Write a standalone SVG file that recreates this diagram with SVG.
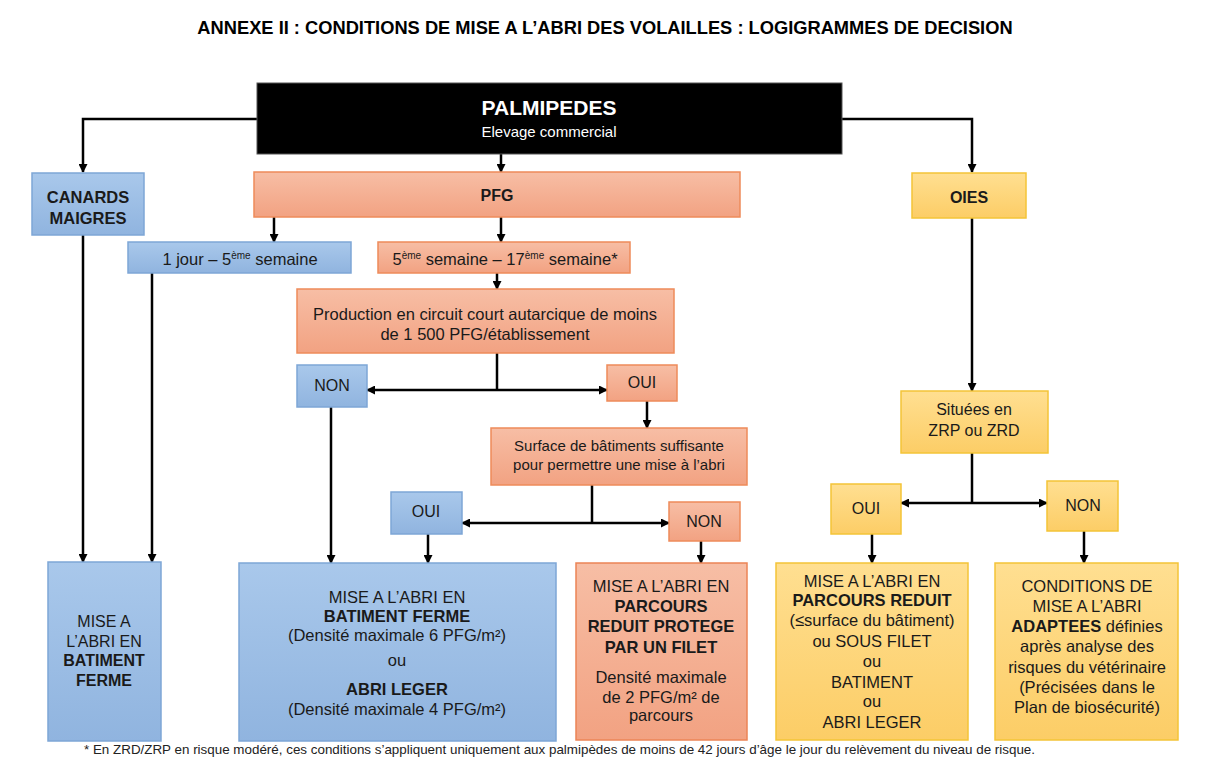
<svg xmlns="http://www.w3.org/2000/svg" width="1215" height="769" viewBox="0 0 1215 769">
<defs>
<linearGradient id="gBlue" x1="0" y1="0" x2="0" y2="1"><stop offset="0" stop-color="#a9c8eb"/><stop offset="1" stop-color="#90b4df"/></linearGradient>
<linearGradient id="gOrange" x1="0" y1="0" x2="0" y2="1"><stop offset="0" stop-color="#f7bea5"/><stop offset="1" stop-color="#f2a282"/></linearGradient>
<linearGradient id="gYellow" x1="0" y1="0" x2="0" y2="1"><stop offset="0" stop-color="#ffdf91"/><stop offset="1" stop-color="#fccd66"/></linearGradient>
<marker id="arr" markerWidth="9" markerHeight="9" refX="8" refY="4.5" orient="auto" markerUnits="userSpaceOnUse"><path d="M0,0 L9,4.5 L0,9 z" fill="#000"/></marker>
<style>
text{font-family:"Liberation Sans",Arial,Helvetica,sans-serif;fill:#1a1a1a;text-anchor:middle}
.b{font-weight:bold}
.blue{fill:url(#gBlue);stroke:#7ea6d6;stroke-width:1.5}
.orange{fill:url(#gOrange);stroke:#ee8b5a;stroke-width:1.5}
.yellow{fill:url(#gYellow);stroke:#f4c437;stroke-width:1.5}
.t16{font-size:16.5px}
.c path{fill:none;stroke:#000;stroke-width:2.5}
.c path.a{marker-end:url(#arr)}
</style>
</defs>
<rect width="1215" height="769" fill="#fff"/>
<text x="605" y="34" class="b" style="font-size:18.3px;fill:#000">ANNEXE II : CONDITIONS DE MISE A L’ABRI DES VOLAILLES : LOGIGRAMMES DE DECISION</text>

<g class="c" id="connectors">
<path class="a" d="M257,119 H83 V172"/>
<path class="a" d="M842,119 H972 V172"/>
<path class="a" d="M501,154 V172"/>
<path class="a" d="M274,217 V242"/>
<path class="a" d="M501,217 V242"/>
<path class="a" d="M83,235 V562"/>
<path class="a" d="M152,273 V562"/>
<path class="a" d="M497,273 V289"/>
<path d="M497,353 V390"/>
<path class="a" d="M497,390 H367"/>
<path class="a" d="M497,390 H607"/>
<path class="a" d="M647,401 V428"/>
<path class="a" d="M331,407 V563"/>
<path d="M592,485 V523"/>
<path class="a" d="M592,523 H462"/>
<path class="a" d="M592,523 H669"/>
<path class="a" d="M428,534 V563"/>
<path class="a" d="M701,541 V563"/>
<path class="a" d="M972,218 V391"/>
<path d="M972,453 V503"/>
<path class="a" d="M972,503 H901"/>
<path class="a" d="M972,503 H1047"/>
<path class="a" d="M872,534 V563"/>
<path class="a" d="M1084,531 V563"/>
</g>

<g id="palmipedes">
<rect x="257" y="83" width="585" height="71" fill="#000" stroke="#555" stroke-width="1"/>
<text x="549" y="115" class="b" style="font-size:21px;fill:#fff">PALMIPEDES</text>
<text x="549" y="137" style="font-size:15px;fill:#fff">Elevage commercial</text>
</g>

<g id="canards">
<rect class="blue" x="32" y="173" width="112" height="62"/>
<text x="88" y="203" class="b t16">CANARDS</text>
<text x="88" y="224" class="b t16">MAIGRES</text>
</g>

<g id="pfg">
<rect class="orange" x="254" y="172" width="486" height="45"/>
<text x="497" y="201" class="b" style="font-size:16px">PFG</text>
</g>

<g id="oies">
<rect class="yellow" x="912" y="173" width="114" height="45"/>
<text x="969" y="203" class="b" style="font-size:16px">OIES</text>
</g>

<g id="jour1">
<rect class="blue" x="128" y="242" width="223" height="31"/>
<text x="240" y="265" class="t16">1 jour – 5<tspan dy="-6" style="font-size:10px">ème</tspan><tspan dy="6"> semaine</tspan></text>
</g>

<g id="sem5">
<rect class="orange" x="378" y="242" width="252" height="31"/>
<text x="505" y="265" class="t16">5<tspan dy="-6" style="font-size:10px">ème</tspan><tspan dy="6"> semaine – 17</tspan><tspan dy="-6" style="font-size:10px">ème</tspan><tspan dy="6"> semaine*</tspan></text>
</g>

<g id="production">
<rect class="orange" x="297" y="289" width="377" height="64"/>
<text x="485" y="320" class="t16">Production en circuit court autarcique de moins</text>
<text x="485" y="340" class="t16">de 1 500 PFG/établissement</text>
</g>

<g id="non1">
<rect class="blue" x="297" y="365" width="70" height="42"/>
<text x="332" y="391" style="font-size:16px">NON</text>
</g>

<g id="oui1">
<rect class="orange" x="607" y="365" width="70" height="36"/>
<text x="642" y="388" style="font-size:16px">OUI</text>
</g>

<g id="surface">
<rect class="orange" x="491" y="428" width="256" height="57"/>
<text x="619" y="451" style="font-size:15px">Surface de bâtiments suffisante</text>
<text x="619" y="470" style="font-size:15px">pour permettre une mise à l’abri</text>
</g>

<g id="oui2">
<rect class="blue" x="391" y="492" width="71" height="42"/>
<text x="426" y="517" style="font-size:16px">OUI</text>
</g>

<g id="non2">
<rect class="orange" x="669" y="502" width="71" height="39"/>
<text x="704" y="527" style="font-size:16px">NON</text>
</g>

<g id="situees">
<rect class="yellow" x="901" y="391" width="147" height="62"/>
<text x="974" y="415" style="font-size:16px">Situées en</text>
<text x="974" y="436" style="font-size:16px">ZRP ou ZRD</text>
</g>

<g id="oui3">
<rect class="yellow" x="831" y="484" width="70" height="50"/>
<text x="866" y="514" style="font-size:16px">OUI</text>
</g>

<g id="non3">
<rect class="yellow" x="1047" y="481" width="71" height="50"/>
<text x="1083" y="511" style="font-size:16px">NON</text>
</g>

<g id="res1">
<rect class="blue" x="48" y="562" width="113" height="179"/>
<text x="104" y="627" style="font-size:16px">MISE A</text>
<text x="104" y="647" style="font-size:16px">L’ABRI EN</text>
<text x="104" y="666" class="b" style="font-size:16px">BATIMENT</text>
<text x="104" y="686" class="b" style="font-size:16px">FERME</text>
</g>

<g id="res2">
<rect class="blue" x="239" y="563" width="317" height="178"/>
<text x="397" y="603" class="t16">MISE A L’ABRI EN</text>
<text x="397" y="622" class="t16 b">BATIMENT FERME</text>
<text x="397" y="641" class="t16">(Densité maximale 6 PFG/m²)</text>
<text x="397" y="666" class="t16">ou</text>
<text x="397" y="695" class="t16 b">ABRI LEGER</text>
<text x="397" y="715" class="t16">(Densité maximale 4 PFG/m²)</text>
</g>

<g id="res3">
<rect x="576" y="563" width="171" height="177" fill="url(#gOrange)" stroke="#ec8456" stroke-width="1.5"/>
<text x="661" y="592" class="t16">MISE A L’ABRI EN</text>
<text x="661" y="612" class="t16 b">PARCOURS</text>
<text x="661" y="632" class="t16 b">REDUIT PROTEGE</text>
<text x="661" y="653" class="t16 b">PAR UN FILET</text>
<text x="661" y="683" class="t16">Densité maximale</text>
<text x="661" y="703" class="t16">de 2 PFG/m² de</text>
<text x="661" y="721" class="t16">parcours</text>
</g>

<g id="res4">
<rect class="yellow" x="776" y="563" width="192" height="177"/>
<text x="872" y="587" class="t16">MISE A L’ABRI EN</text>
<text x="872" y="606" class="t16 b">PARCOURS REDUIT</text>
<text x="872" y="626" class="t16">(≤surface du bâtiment)</text>
<text x="872" y="647" class="t16">ou SOUS FILET</text>
<text x="872" y="667" class="t16">ou</text>
<text x="872" y="688" class="t16">BATIMENT</text>
<text x="872" y="707" class="t16">ou</text>
<text x="872" y="728" class="t16">ABRI LEGER</text>
</g>

<g id="res5">
<rect class="yellow" x="995" y="563" width="183" height="177"/>
<text x="1087" y="592" class="t16">CONDITIONS DE</text>
<text x="1087" y="612" class="t16">MISE A L’ABRI</text>
<text x="1087" y="632" class="t16"><tspan class="b">ADAPTEES</tspan> définies</text>
<text x="1087" y="652" class="t16">après analyse des</text>
<text x="1087" y="673" class="t16">risques du vétérinaire</text>
<text x="1087" y="693" class="t16">(Précisées dans le</text>
<text x="1087" y="713" class="t16">Plan de biosécurité)</text>
</g>

<text x="84" y="754" style="font-size:13.4px;text-anchor:start;fill:#222">* En ZRD/ZRP en risque modéré, ces conditions s’appliquent uniquement aux palmipèdes de moins de 42 jours d’âge le jour du relèvement du niveau de risque.</text>
</svg>
